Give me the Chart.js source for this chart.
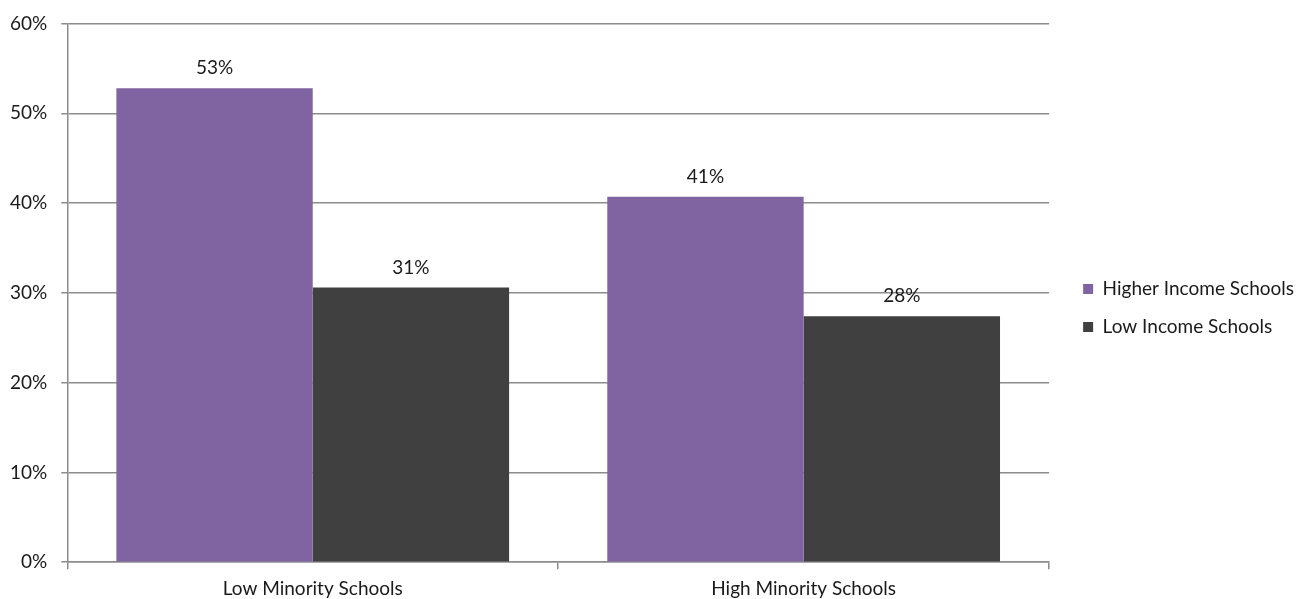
<!DOCTYPE html>
<html>
<head>
<meta charset="utf-8">
<script src="https://cdn.jsdelivr.net/npm/chart.js@4"></script>
<style>
  body { margin: 0; background: #fff; }
  #wrap { width: 1298px; height: 599px; }
</style>
</head>
<body>
<div id="wrap"><canvas id="myChart" width="1298" height="599"></canvas></div>
<script>
const categories = ["Low Minority Schools", "High Minority Schools"];
const higherIncome = [52.8, 40.7];
const lowIncome = [30.6, 27.4];
const valueLabels = [["53%", "41%"], ["31%", "28%"]];
const yTicks = [0, 10, 20, 30, 40, 50, 60];

const fontFamily = "Lato, 'Open Sans', sans-serif";
const fontSize = 19;
const gridGray = "#8c8c8c";

// draws the percentage text above each bar
const barLabels = {
    id: "barLabels",
    afterDatasetsDraw(chart) {
        const c = chart.ctx;
        c.save();
        c.font = fontSize + "px " + fontFamily;
        c.fillStyle = "#1a1a1a";
        c.textAlign = "center";
        c.textBaseline = "middle";
        chart.data.datasets.forEach((ds, i) => {
            chart.getDatasetMeta(i).data.forEach((bar, j) => {
                c.fillText(valueLabels[i][j], bar.x, bar.y - 20);
            });
        });
        c.restore();
    }
};

// leave a wider gap between the plot and the legend
const legendGap = {
    id: "legendGap",
    afterLayout(chart) {
        chart.legend.left += 15;
        chart.legend.right += 15;
    }
};

const ctx = document.getElementById("myChart").getContext("2d");
const myChart = new Chart(ctx, {
    type: "bar",
    data: {
        labels: categories,
        datasets: [
            {
                label: "Higher Income Schools",
                data: higherIncome,
                backgroundColor: "#8064a2"
            },
            {
                label: "Low Income Schools",
                data: lowIncome,
                backgroundColor: "#404040"
            }
        ]
    },
    options: {
        responsive: false,
        animation: false,
        categoryPercentage: 0.8,
        barPercentage: 1.0,
        layout: { padding: { left: -4, top: 8, right: 9, bottom: -9 } },
        plugins: {
            tooltip: { enabled: false },
            legend: {
                position: "right",
                labels: {
                    boxWidth: 10,
                    boxHeight: 10,
                    padding: 19,
                    color: "#1a1a1a",
                    font: { family: fontFamily, size: fontSize }
                }
            }
        },
        scales: {
            y: {
                min: 0,
                max: 60,
                afterBuildTicks(axis) {
                    axis.ticks = yTicks.map(v => ({ value: v }));
                },
                grid: {
                    color: gridGray,
                    lineWidth: 1.5,
                    tickLength: 6
                },
                border: { color: gridGray, width: 1.5 },
                ticks: {
                    padding: 14,
                    color: "#1a1a1a",
                    font: { family: fontFamily, size: fontSize, lineHeight: 1 },
                    callback: v => v + "%"
                }
            },
            x: {
                grid: {
                    offset: true,
                    drawOnChartArea: false,
                    color: gridGray,
                    lineWidth: 1.5,
                    tickLength: 7
                },
                border: { color: gridGray, width: 1.5 },
                ticks: {
                    padding: 8,
                    color: "#1a1a1a",
                    font: { family: fontFamily, size: fontSize }
                }
            }
        }
    },
    plugins: [barLabels, legendGap]
});
</script>
</body>
</html>
